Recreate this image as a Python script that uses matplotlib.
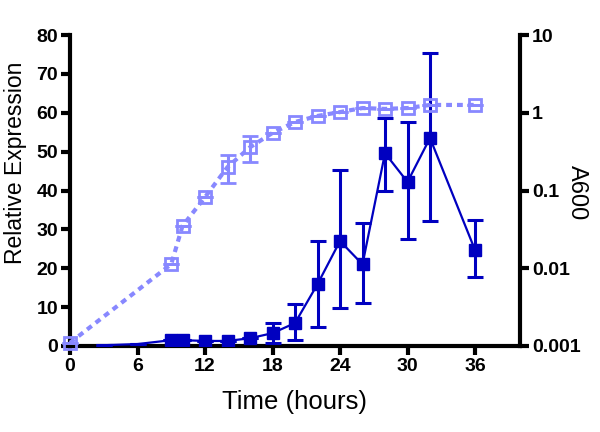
import matplotlib
matplotlib.use("Agg")
import matplotlib.pyplot as plt
from matplotlib.ticker import FixedLocator, NullLocator

plt.rcParams['font.family'] = ['Liberation Sans', 'DejaVu Sans']

# relative expression (left axis)
time = [3, 6, 9, 10, 12, 14, 16, 18, 20, 22, 24, 26, 28, 30, 32, 36]
expr = [0.2, 0.5, 1.5, 1.5, 1.3, 1.3, 2.0, 3.3, 5.9, 15.9, 27.0, 21.0, 49.6, 42.2, 53.5, 24.7]
expr_hi = [0.2, 0.5, 1.5, 1.5, 1.3, 1.3, 2.0, 5.9, 10.8, 27.0, 45.2, 31.6, 58.6, 57.6, 75.3, 32.4]
expr_lo = [0.2, 0.5, 1.5, 1.5, 1.3, 1.3, 2.0, 0.7, 1.5, 4.9, 9.8, 11.0, 39.8, 27.5, 32.1, 17.7]

# A600 (right axis, log)
a_time = [0, 9, 10, 12, 14, 16, 18, 20, 22, 24, 26, 28, 30, 32, 36]
a600 = [0.0011, 0.0113, 0.035, 0.082, 0.20, 0.36, 0.55, 0.76, 0.91, 1.02, 1.15, 1.12, 1.15, 1.26, 1.26]
a600_hi = [0.0011, 0.0113, 0.035, 0.082, 0.29, 0.50, 0.55, 0.76, 0.91, 1.02, 1.15, 1.12, 1.15, 1.26, 1.26]
a600_lo = [0.0011, 0.0113, 0.035, 0.082, 0.125, 0.23, 0.55, 0.76, 0.91, 1.02, 1.15, 1.12, 1.15, 1.26, 1.26]

x_ticks = [0, 6, 12, 18, 24, 30, 36]
y_ticks = [0, 10, 20, 30, 40, 50, 60, 70, 80]
a_ticks = [0.001, 0.01, 0.1, 1, 10]
a_labels = ['0.001', '0.01', '0.1', '1', '10']

dark = '#0000C0'
light = '#8888FF'

fig = plt.figure(figsize=(6, 4.32), dpi=100)
ax1 = fig.add_axes([70/600, 86/432, 450/600, 311/432])
ax2 = ax1.twinx()

# dark series
err = [[e - l for e, l in zip(expr, expr_lo)], [h - e for e, h in zip(expr, expr_hi)]]
ax1.errorbar(time, expr, yerr=err, color=dark, lw=1.6, elinewidth=2.2,
             capsize=5.5, capthick=2.2, marker='s', ms=9, markevery=list(range(2, len(time))),
             zorder=3)

# light series
aerr = [[v - l for v, l in zip(a600, a600_lo)], [h - v for v, h in zip(a600, a600_hi)]]
ax2.errorbar(a_time, a600, yerr=aerr, color=light, lw=3, ls=(0, (1.4, 1.2)),
             elinewidth=2.2, capsize=5.5, capthick=2.2, marker='s', ms=9,
             mfc='none', mec=light, mew=2, clip_on=False)

ax1.set_xlim(0, 40)
ax1.set_ylim(0, 80)
ax2.set_yscale('log')
ax2.set_ylim(0.001, 10)

ax1.xaxis.set_major_locator(FixedLocator(x_ticks))
ax1.yaxis.set_major_locator(FixedLocator(y_ticks))
ax2.yaxis.set_major_locator(FixedLocator(a_ticks))
ax2.yaxis.set_minor_locator(NullLocator())
ax2.set_yticklabels(a_labels)

for ax in (ax1, ax2):
    ax.spines['top'].set_visible(False)
    for s in ax.spines.values():
        s.set_linewidth(3)
    ax.tick_params(width=3, length=6.5, labelsize=14, pad=2)
    for lab in ax.get_xticklabels() + ax.get_yticklabels():
        lab.set_fontweight('bold')
ax1.spines['right'].set_visible(False)
ax2.spines['left'].set_visible(False)
ax2.spines['bottom'].set_visible(False)

ax1.set_xlabel('Time (hours)', fontsize=18.5, va='center')
ax1.xaxis.set_label_coords(0.5, -0.18)
ax1.set_ylabel('Relative Expression', fontsize=16.5, va='center')
ax1.yaxis.set_label_coords(-0.12, 0.588)
ax2.set_ylabel('A600', fontsize=17, rotation=270, va='center')
ax2.yaxis.set_label_coords(1.127, 0.492)

fig.savefig('out.png', dpi=100)
